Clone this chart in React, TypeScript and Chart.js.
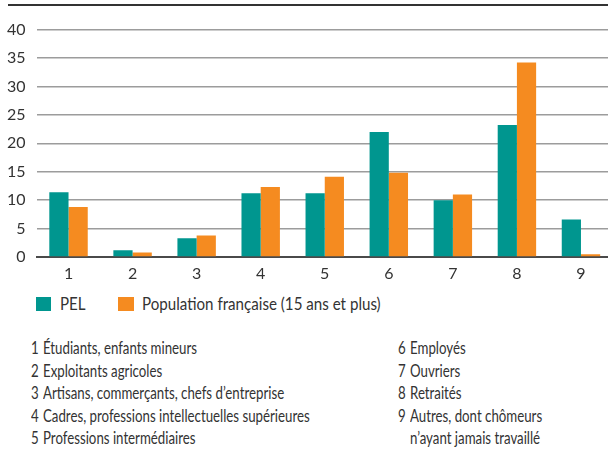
import React, { useEffect, useRef } from "react";
import { Chart, registerables } from "chart.js";

Chart.register(...registerables);

const categories = ["1", "2", "3", "4", "5", "6", "7", "8", "9"];
const pelValues = [11.4, 1.2, 3.3, 11.2, 11.2, 22.0, 10.0, 23.2, 6.6];
const popValues = [8.8, 0.8, 3.8, 12.3, 14.1, 14.8, 11.0, 34.2, 0.5];
const seriesLabels = ["PEL", "Population française (15 ans et plus)"];
const seriesColors = ["#00968f", "#f58b20"];
const yMin = 0;
const yMax = 40;
const yStep = 5;

const footLeft: [string, string][] = [
  ["1", "Étudiants, enfants mineurs"],
  ["2", "Exploitants agricoles"],
  ["3", "Artisans, commerçants, chefs d’entreprise"],
  ["4", "Cadres, professions intellectuelles supérieures"],
  ["5", "Professions intermédiaires"],
];
const footRight: [string, string][] = [
  ["6", "Employés"],
  ["7", "Ouvriers"],
  ["8", "Retraités"],
  ["9", "Autres, dont chômeurs"],
  ["", "n’ayant jamais travaillé"],
];

const FONT = "'Lato', 'DejaVu Sans', sans-serif";
const TEXT = "#333333";

function Txt(props: { left: number; top: number; size: number; k: number; children: React.ReactNode }) {
  return (
    <div
      style={{
        position: "absolute",
        left: props.left,
        top: props.top,
        fontSize: props.size,
        lineHeight: "20px",
        whiteSpace: "nowrap",
        transform: `scaleX(${props.k})`,
        transformOrigin: "left center",
      }}
    >
      {props.children}
    </div>
  );
}

export default function App() {
  const ref = useRef<HTMLCanvasElement | null>(null);

  useEffect(() => {
    if (!ref.current) return;
    const chart = new Chart(ref.current, {
      type: "bar",
      data: {
        labels: categories,
        datasets: [
          {
            label: seriesLabels[0],
            data: pelValues,
            backgroundColor: seriesColors[0],
            borderWidth: 0,
            categoryPercentage: 0.6,
            barPercentage: 1,
          },
          {
            label: seriesLabels[1],
            data: popValues,
            backgroundColor: seriesColors[1],
            borderWidth: 0,
            categoryPercentage: 0.6,
            barPercentage: 1,
          },
        ],
      },
      options: {
        animation: false,
        responsive: false,
        maintainAspectRatio: false,
        layout: { padding: { top: 29.5, bottom: 4, left: 0, right: 0 } },
        plugins: {
          legend: { display: false },
          tooltip: { enabled: false },
        },
        scales: {
          x: {
            grid: { display: false, drawTicks: false },
            border: { display: true, color: "#4a4a4a", width: 2 },
            ticks: {
              color: TEXT,
              font: { family: FONT, size: 16 },
              padding: 7,
            },
            afterFit: (s: any) => {
              s.height = 29;
            },
          },
          y: {
            min: yMin,
            max: yMax,
            ticks: {
              stepSize: yStep,
              color: TEXT,
              font: { family: FONT, size: 16 },
              padding: 11,
            },
            grid: { color: "#9c9c9c", lineWidth: 1.5, drawTicks: false },
            border: { display: false },
            afterFit: (s: any) => {
              s.width = 36.5;
            },
          },
        },
      },
    });
    return () => chart.destroy();
  }, []);

  const LK = 0.89;
  const FK = 0.78;

  return (
    <div
      style={{
        position: "fixed",
        left: 0,
        top: 0,
        width: 614,
        height: 449,
        background: "#fff",
        fontFamily: FONT,
        color: TEXT,
        overflow: "hidden",
      }}
    >
      <div
        style={{
          position: "absolute",
          left: 8,
          top: 4,
          width: 606,
          height: 2,
          background: "#333",
        }}
      />
      <canvas
        ref={ref}
        width={613}
        height={290}
        style={{ position: "absolute", left: 0, top: 0, width: 613, height: 290 }}
      />
      {/* legend */}
      <div style={{ position: "absolute", left: 36, top: 297, width: 15, height: 14, background: seriesColors[0] }} />
      <Txt left={60} top={294} size={17} k={LK}>{seriesLabels[0]}</Txt>
      <div style={{ position: "absolute", left: 118, top: 297, width: 16, height: 14, background: seriesColors[1] }} />
      <Txt left={142} top={294} size={17} k={LK}>{seriesLabels[1]}</Txt>
      {/* footnotes */}
      {footLeft.map(([n, t], i) => (
        <React.Fragment key={"l" + i}>
          <Txt left={31} top={338 + i * 22.5} size={17} k={FK}>{n}</Txt>
          <Txt left={43} top={338 + i * 22.5} size={17} k={FK}>{t}</Txt>
        </React.Fragment>
      ))}
      {footRight.map(([n, t], i) => (
        <React.Fragment key={"r" + i}>
          <Txt left={398} top={338 + i * 22.5} size={17} k={FK}>{n}</Txt>
          <Txt left={410} top={338 + i * 22.5} size={17} k={FK}>{t}</Txt>
        </React.Fragment>
      ))}
    </div>
  );
}
